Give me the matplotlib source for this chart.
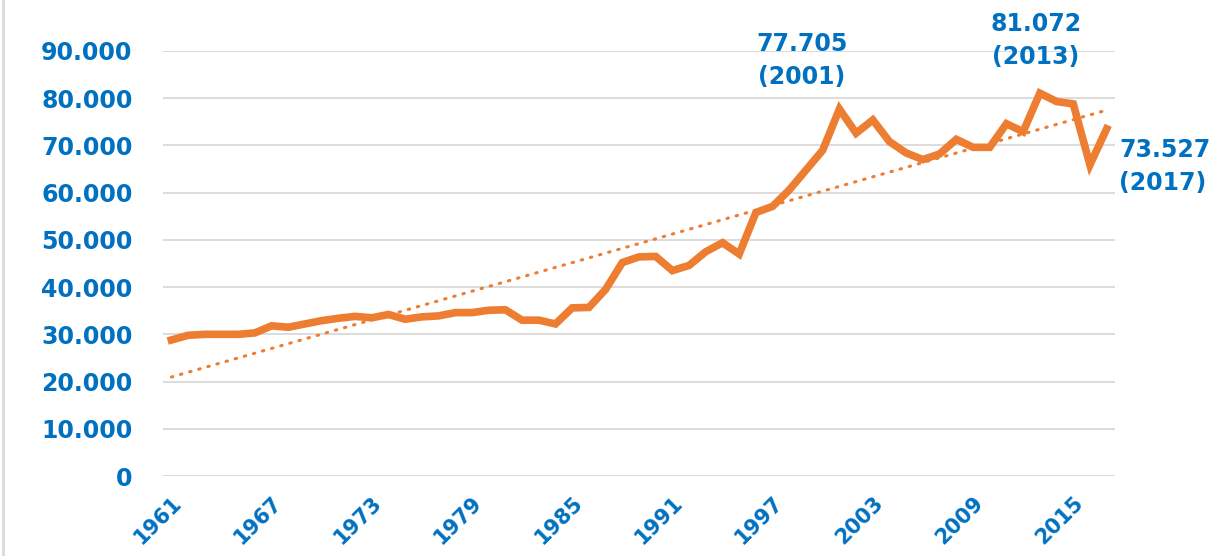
import numpy as np
import matplotlib.pyplot as plt

# --- data ---
years = list(range(1961, 2018))
values = [28.8, 29.8, 30.0, 30.0, 30.0, 30.3, 31.8, 31.5, 32.2, 32.9,
          33.4, 33.8, 33.5, 34.2, 33.2, 33.7, 33.9, 34.6, 34.6, 35.1,
          35.2, 33.0, 33.0, 32.2, 35.6, 35.7, 39.5, 45.2, 46.4, 46.5,
          43.5, 44.6, 47.5, 49.4, 47.0, 55.8, 57.1, 60.6, 64.8, 69.0,
          77.705, 72.6, 75.4, 70.8, 68.4, 67.0, 68.2, 71.3, 69.6, 69.6,
          74.6, 72.9, 81.072, 79.3, 78.8, 65.9, 73.527]
tick_years = [1961, 1967, 1973, 1979, 1985, 1991, 1997, 2003, 2009, 2015]
y_ticks = [0, 10, 20, 30, 40, 50, 60, 70, 80, 90]
y_labels = ["0", "10.000", "20.000", "30.000", "40.000", "50.000",
            "60.000", "70.000", "80.000", "90.000"]
callouts = [(2001, 77.705, "77.705\n(2001)"),
            (2013, 81.072, "81.072\n(2013)"),
            (2017, 73.527, "73.527\n(2017)")]

blue = "#0070C0"
orange = "#ED7D31"

fig = plt.figure(figsize=(12.21, 5.56), dpi=100)
ax = fig.add_axes([163 / 1221, 1 - 476 / 556, (1115 - 163) / 1221, (476 - 51) / 556])

ax.plot(years, values, color=orange, lw=5.5, solid_joinstyle="miter", zorder=3)

# linear trend line, like the Excel one
slope, icpt = np.polyfit(years, values, 1)
trend = [slope * y + icpt for y in years]
ax.plot(years, trend, color=orange, lw=2.2, linestyle=(0, (0.5, 2.6)),
        dash_capstyle="round", zorder=2)

ax.set_xlim(1960.5, 2017.5)
ax.set_ylim(0, 90)
ax.set_yticks(y_ticks)
ax.set_yticklabels(y_labels)
ax.set_xticks(tick_years)
ax.set_xticklabels([str(y) for y in tick_years], rotation=45, ha="right",
                   rotation_mode="anchor")
ax.tick_params(axis="y", length=0, pad=22, labelsize=17, labelcolor=blue)
ax.tick_params(axis="x", length=0, pad=12, labelsize=15, labelcolor=blue)
for lab in ax.get_xticklabels() + ax.get_yticklabels():
    lab.set_fontweight("bold")

ax.grid(axis="y", color="#D9D9D9", lw=1.3)
ax.set_axisbelow(True)
for s in ax.spines.values():
    s.set_visible(False)

# value callouts
offsets = {2001: (-27, 35, "center"), 2013: (-3, 38, "center"), 2017: (9, -27, "left")}
for yr, val, txt in callouts:
    dx, dy, ha = offsets[yr]
    ax.annotate(txt, xy=(yr, val), xytext=(dx, dy), textcoords="offset points",
                ha=ha, va="center", color=blue, fontsize=17, fontweight="bold",
                linespacing=1.45, annotation_clip=False)

# chart border on the left
fig.add_artist(plt.Line2D([3 / 1221, 3 / 1221], [0, 1], color="#D9D9D9", lw=2,
                          transform=fig.transFigure))

plt.savefig("out.png", dpi=100)
